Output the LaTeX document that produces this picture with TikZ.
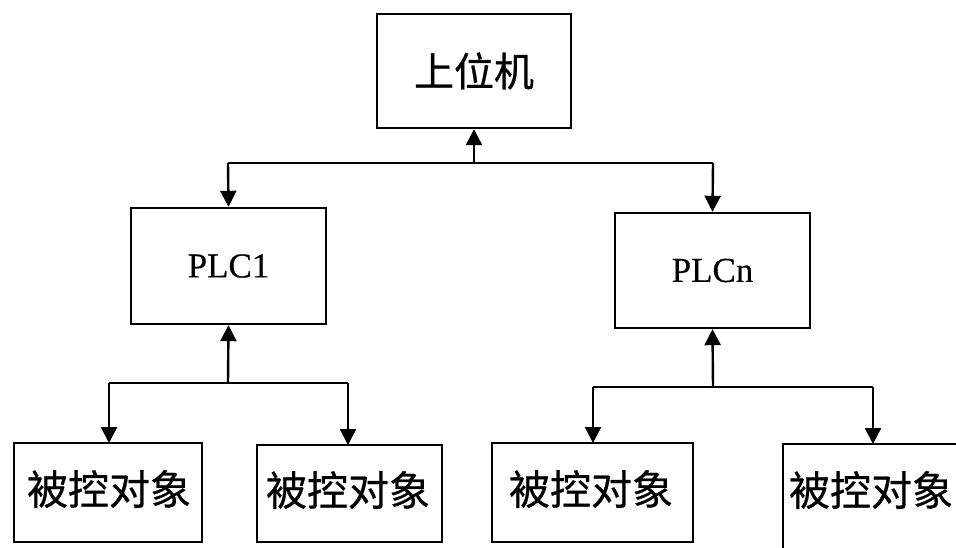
\documentclass[tikz,border=0pt]{standalone}
\usepackage{fontspec}
\setmainfont{Liberation Serif}[FakeBold=0.4]
\newfontfamily\cjk{Noto Sans CJK SC}[FakeBold=0.6]
\usetikzlibrary{arrows.meta}
\tikzset{
  box/.style={draw, line width=2.4pt, rectangle, inner sep=0pt},
  cjktxt/.style={font=\cjk\fontsize{41}{48}\selectfont, inner sep=0pt},
  lat/.style={font=\fontsize{35}{40}\selectfont},
  link/.style={line width=2.4pt},
  arr/.style={line width=2.4pt, -{Triangle[width=16pt,length=16pt]}}
}
\begin{document}
\begin{tikzpicture}[x=1pt,y=-1pt]
\useasboundingbox (0,0) rectangle (956,548);
\clip (0,0) rectangle (956,548);
\fill[white] (0,0) rectangle (956,548);
% boxes
\node[box, minimum width=194pt, minimum height=114pt, font=\cjk\fontsize{40}{48}\selectfont] (top) at (474,71) {上位机};
\node[box, lat, minimum width=195pt, minimum height=116pt] (p1) at (228.5,266) {PLC1};
\node[box, lat, minimum width=195pt, minimum height=115pt] (pn) at (712.5,270.5) {PLCn};
\node[box, minimum width=188pt, minimum height=99pt] (b1) at (108,492.5) {};
\node[box, minimum width=185pt, minimum height=97pt] (b2) at (349.5,493.5) {};
\node[box, minimum width=201pt, minimum height=99pt] (b3) at (592.5,492.5) {};
\node[box, minimum width=200pt, minimum height=120pt] (b4) at (883,504) {};
\node[cjktxt] (t1) at (109,489) {被控对象};
\node[cjktxt] (t2) at (348,490) {被控对象};
\node[cjktxt] (t3) at (591,489) {被控对象};
\node[cjktxt] (t4) at (871,490) {被控对象};
% junctions
\coordinate (j0) at (474,163);
\coordinate (j1) at (228,383);
\coordinate (j2) at (713,387);
% level 1
\draw[arr] (j0) -- (top.south);
\draw[link] (228,163) -- (713,163);
\draw[arr] (228,163) -- (p1.north);
\draw[arr] (713,163) -- (pn.north);
% level 2 left
\draw[arr] (j1) -- (p1.south);
\draw[link] (109,383) -- (348,383);
\draw[arr] (109,383) -- (109,443);
\draw[arr] (348,383) -- (348,445);
% level 2 right
\draw[arr] (j2) -- (pn.south);
\draw[link] (593,387) -- (873,387);
\draw[arr] (593,387) -- (593,443);
\draw[arr] (873,387) -- (873,444);
\end{tikzpicture}
\end{document}
